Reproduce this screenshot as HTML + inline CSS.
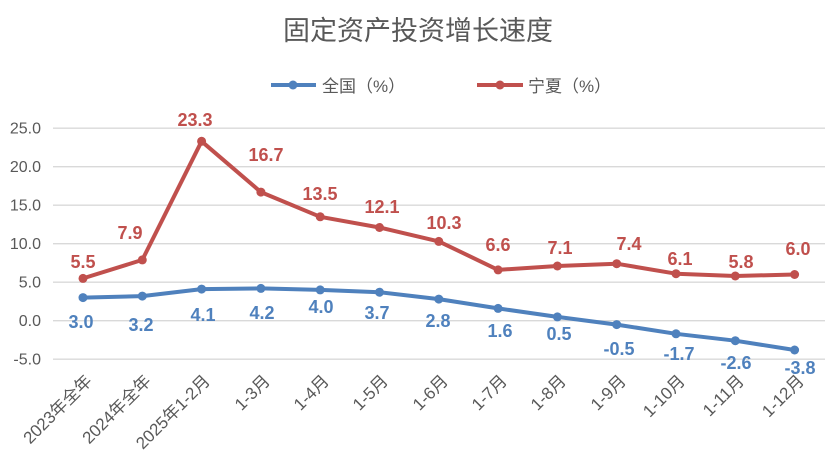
<!DOCTYPE html>
<html><head><meta charset="utf-8"><style>
html,body{margin:0;padding:0;background:#fff}
svg{display:block;font-family:"Liberation Sans","Noto Sans CJK SC",sans-serif}
</style></head><body>
<svg width="827" height="473" viewBox="0 0 827 473">
<text x="418" y="40" text-anchor="middle" font-size="27" fill="#595959">固定资产投资增长速度</text>
<line x1="271" y1="85" x2="316" y2="85" stroke="#4f81bd" stroke-width="4"/>
<circle cx="293" cy="85" r="4.5" fill="#4f81bd"/>
<text x="322" y="92" font-size="17" fill="#595959">全国（%）</text>
<line x1="477" y1="85" x2="523" y2="85" stroke="#c0504d" stroke-width="4"/>
<circle cx="500" cy="85" r="4.5" fill="#c0504d"/>
<text x="528" y="92" font-size="17" fill="#595959">宁夏（%）</text>
<g stroke="#d9d9d9" stroke-width="1.3">
<line x1="53" y1="128.2" x2="825" y2="128.2"/><line x1="53" y1="166.7" x2="825" y2="166.7"/>
<line x1="53" y1="205.2" x2="825" y2="205.2"/><line x1="53" y1="243.7" x2="825" y2="243.7"/>
<line x1="53" y1="282.2" x2="825" y2="282.2"/><line x1="53" y1="320.7" x2="825" y2="320.7"/>
<line x1="53" y1="359.2" x2="825" y2="359.2"/>
</g>
<g font-size="16" fill="#595959" text-anchor="end">
<text x="41" y="133.5">25.0</text><text x="41" y="172">20.0</text><text x="41" y="210.5">15.0</text>
<text x="41" y="249">10.0</text><text x="41" y="287.5">5.0</text><text x="41" y="326">0.0</text><text x="41" y="364.5">-5.0</text>
</g>
<polyline fill="none" stroke="#4f81bd" stroke-width="4" stroke-linejoin="round" points="83,297.6 142.3,296.1 201.6,289.1 260.9,288.4 320.2,289.9 379.5,292.2 438.8,299.1 498.1,308.4 557.4,316.9 616.7,324.6 676,333.8 735.3,340.7 794.6,350"/>
<polyline fill="none" stroke="#c0504d" stroke-width="4" stroke-linejoin="round" points="83,278.4 142.3,259.9 201.6,141.3 260.9,192.1 320.2,216.8 379.5,227.5 438.8,241.4 498.1,269.9 557.4,266 616.7,263.7 676,273.7 735.3,276 794.6,274.5"/>
<g fill="#4f81bd">
<circle cx="83" cy="297.6" r="4.5"/><circle cx="142.3" cy="296.1" r="4.5"/><circle cx="201.6" cy="289.1" r="4.5"/><circle cx="260.9" cy="288.4" r="4.5"/><circle cx="320.2" cy="289.9" r="4.5"/><circle cx="379.5" cy="292.2" r="4.5"/><circle cx="438.8" cy="299.1" r="4.5"/><circle cx="498.1" cy="308.4" r="4.5"/><circle cx="557.4" cy="316.9" r="4.5"/><circle cx="616.7" cy="324.6" r="4.5"/><circle cx="676" cy="333.8" r="4.5"/><circle cx="735.3" cy="340.7" r="4.5"/><circle cx="794.6" cy="350" r="4.5"/>
</g>
<g fill="#c0504d">
<circle cx="83" cy="278.4" r="4.5"/><circle cx="142.3" cy="259.9" r="4.5"/><circle cx="201.6" cy="141.3" r="4.5"/><circle cx="260.9" cy="192.1" r="4.5"/><circle cx="320.2" cy="216.8" r="4.5"/><circle cx="379.5" cy="227.5" r="4.5"/><circle cx="438.8" cy="241.4" r="4.5"/><circle cx="498.1" cy="269.9" r="4.5"/><circle cx="557.4" cy="266" r="4.5"/><circle cx="616.7" cy="263.7" r="4.5"/><circle cx="676" cy="273.7" r="4.5"/><circle cx="735.3" cy="276" r="4.5"/><circle cx="794.6" cy="274.5" r="4.5"/>
</g>
<g font-size="18" font-weight="bold" fill="#c0504d" text-anchor="middle">
<text x="83" y="268">5.5</text><text x="130" y="239">7.9</text><text x="195" y="126">23.3</text><text x="266" y="161">16.7</text><text x="320" y="200">13.5</text><text x="382" y="213">12.1</text><text x="444" y="229">10.3</text><text x="498" y="251">6.6</text><text x="560" y="254">7.1</text><text x="629" y="250">7.4</text><text x="680" y="265">6.1</text><text x="741" y="268">5.8</text><text x="798" y="255">6.0</text>
</g>
<g font-size="18" font-weight="bold" fill="#4f81bd" text-anchor="middle">
<text x="81" y="328">3.0</text><text x="141" y="331">3.2</text><text x="203" y="321">4.1</text><text x="262" y="319">4.2</text><text x="321" y="313">4.0</text><text x="377" y="319">3.7</text><text x="438" y="327">2.8</text><text x="500" y="337">1.6</text><text x="559" y="340">0.5</text><text x="619" y="355">-0.5</text><text x="679" y="360">-1.7</text><text x="736" y="369">-2.6</text><text x="800" y="374">-3.8</text>
</g>
<g font-size="17" fill="#595959" text-anchor="end">
<text transform="translate(93,382) rotate(-45)">2023年全年</text>
<text transform="translate(152,382) rotate(-45)">2024年全年</text>
<text transform="translate(211,382) rotate(-45)">2025年1-2月</text>
<text transform="translate(271,382) rotate(-45)">1-3月</text>
<text transform="translate(330,382) rotate(-45)">1-4月</text>
<text transform="translate(389,382) rotate(-45)">1-5月</text>
<text transform="translate(449,382) rotate(-45)">1-6月</text>
<text transform="translate(508,382) rotate(-45)">1-7月</text>
<text transform="translate(567,382) rotate(-45)">1-8月</text>
<text transform="translate(627,382) rotate(-45)">1-9月</text>
<text transform="translate(686,382) rotate(-45)">1-10月</text>
<text transform="translate(745,382) rotate(-45)">1-11月</text>
<text transform="translate(805,382) rotate(-45)">1-12月</text>
</g>
</svg>
</body></html>
